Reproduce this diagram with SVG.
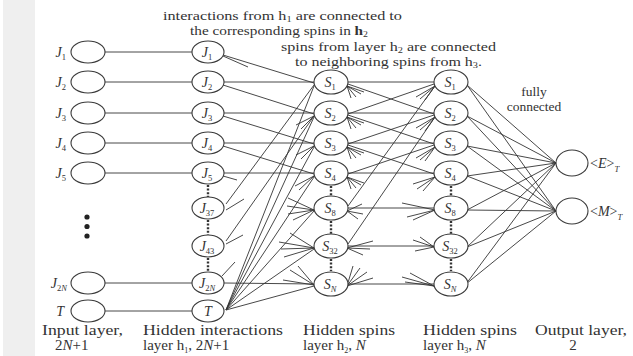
<svg xmlns="http://www.w3.org/2000/svg" width="633" height="356" viewBox="0 0 633 356">
<style>
.n{fill:#fff;stroke:#3a3a3a;stroke-width:1.1}
.c line{stroke:#333;stroke-width:0.9}
.d{stroke:#333;stroke-width:2.4;stroke-dasharray:2 1.6}
.lb{font-family:'Liberation Serif','DejaVu Serif',serif;font-style:italic;font-size:14px;fill:#333}
.sb{font-size:8.5px}
.up{font-style:normal}
.cap{font-family:'Liberation Serif','DejaVu Serif',serif;fill:#333}
.top{font-size:12.5px}
.bot{font-size:15px}
.s{font-size:8px}
</style>
<rect x="3" y="0" width="32" height="356" fill="#efefef"/>

<g class="c" id="connectors">
<!-- input to hidden interactions -->
<line x1="105" y1="52" x2="192" y2="52"/>
<line x1="105" y1="82" x2="192" y2="82"/>
<line x1="105" y1="113" x2="192" y2="113"/>
<line x1="105" y1="143" x2="192" y2="143"/>
<line x1="105" y1="173" x2="192" y2="173"/>
<line x1="105" y1="283" x2="192" y2="283"/>
<line x1="105" y1="311" x2="192" y2="311"/>
<!-- hidden interactions to spins h2 -->
<line x1="223" y1="55" x2="314" y2="83"/>
<line x1="223" y1="56" x2="248" y2="67"/>
<line x1="224" y1="82" x2="314" y2="82"/>
<line x1="223" y1="85" x2="314" y2="114"/>
<line x1="224" y1="113" x2="314" y2="113"/>
<line x1="223" y1="116" x2="314" y2="144"/>
<line x1="224" y1="143" x2="314" y2="143"/>
<line x1="223" y1="146" x2="314" y2="174"/>
<line x1="224" y1="173" x2="314" y2="173"/>
<line x1="223" y1="176" x2="237" y2="180"/>
<line x1="244" y1="199" x2="226" y2="210"/>
<line x1="226" y1="204" x2="314" y2="85"/>
<line x1="226" y1="244" x2="243" y2="235"/>
<line x1="226" y1="241" x2="314" y2="116"/>
<line x1="224" y1="283" x2="314" y2="284"/>
<line x1="222" y1="276" x2="235" y2="262"/>
<line x1="226" y1="310" x2="314" y2="86"/>
<line x1="226" y1="310" x2="314" y2="117"/>
<line x1="226" y1="310" x2="314" y2="147"/>
<line x1="226" y1="310" x2="314" y2="177"/>
<line x1="226" y1="310" x2="314" y2="211"/>
<line x1="226" y1="310" x2="314" y2="249"/>
<line x1="226" y1="310" x2="314" y2="286"/>
<!-- stubs into h2 spins -->
<line x1="296" y1="125" x2="314" y2="116"/>
<line x1="301" y1="129" x2="314" y2="116"/>
<line x1="296" y1="155" x2="314" y2="146"/>
<line x1="301" y1="159" x2="314" y2="146"/>
<line x1="295" y1="186" x2="314" y2="176"/>
<line x1="299" y1="190" x2="314" y2="176"/>
<line x1="288" y1="198" x2="314" y2="210"/>
<line x1="287" y1="206" x2="314" y2="210"/>
<line x1="288" y1="214" x2="314" y2="210"/>
<line x1="293" y1="220" x2="314" y2="210"/>
<line x1="290" y1="233" x2="314" y2="248"/>
<line x1="279" y1="242" x2="314" y2="248"/>
<line x1="281" y1="249" x2="314" y2="248"/>
<line x1="284" y1="257" x2="314" y2="248"/>
<line x1="290" y1="270" x2="314" y2="285"/>
<line x1="298" y1="266" x2="314" y2="285"/>
<line x1="283" y1="280" x2="314" y2="285"/>
<!-- stubs out of h2 spins -->
<line x1="347" y1="86" x2="351" y2="98"/>
<line x1="347" y1="86" x2="356" y2="97"/>
<line x1="347" y1="86" x2="361" y2="94"/>
<line x1="347" y1="86" x2="364" y2="92"/>
<line x1="347" y1="117" x2="351" y2="129"/>
<line x1="347" y1="117" x2="356" y2="128"/>
<line x1="347" y1="117" x2="361" y2="125"/>
<line x1="347" y1="117" x2="364" y2="123"/>
<line x1="347" y1="147" x2="351" y2="159"/>
<line x1="347" y1="147" x2="356" y2="158"/>
<line x1="347" y1="147" x2="361" y2="155"/>
<line x1="347" y1="147" x2="364" y2="153"/>
<line x1="347" y1="177" x2="351" y2="189"/>
<line x1="347" y1="177" x2="356" y2="188"/>
<line x1="347" y1="177" x2="361" y2="185"/>
<line x1="347" y1="177" x2="364" y2="183"/>
<line x1="347" y1="211" x2="363" y2="214"/>
<line x1="347" y1="211" x2="358" y2="219"/>
<line x1="347" y1="211" x2="362" y2="204"/>
<line x1="347" y1="248" x2="373" y2="241"/>
<line x1="347" y1="248" x2="370" y2="249"/>
<line x1="347" y1="248" x2="363" y2="255"/>
<line x1="347" y1="286" x2="353" y2="266"/>
<line x1="347" y1="286" x2="360" y2="268"/>
<line x1="347" y1="286" x2="367" y2="272"/>
<line x1="347" y1="286" x2="373" y2="278"/>
<!-- h2 to h3 -->
<line x1="348" y1="82" x2="434" y2="82"/>
<line x1="348" y1="84" x2="434" y2="114"/>
<line x1="348" y1="114" x2="434" y2="84"/>
<line x1="348" y1="113" x2="434" y2="113"/>
<line x1="348" y1="115" x2="434" y2="144"/>
<line x1="348" y1="144" x2="434" y2="115"/>
<line x1="348" y1="143" x2="434" y2="143"/>
<line x1="348" y1="145" x2="434" y2="174"/>
<line x1="348" y1="174" x2="434" y2="145"/>
<line x1="348" y1="173" x2="434" y2="173"/>
<line x1="348" y1="208" x2="434" y2="208"/>
<line x1="348" y1="246" x2="434" y2="246"/>
<line x1="348" y1="284" x2="434" y2="284"/>
<line x1="348" y1="206" x2="435" y2="86"/>
<line x1="348" y1="244" x2="435" y2="117"/>
<!-- stubs into h3 spins -->
<line x1="416" y1="97" x2="435" y2="86"/>
<line x1="420" y1="99" x2="435" y2="86"/>
<line x1="425" y1="100" x2="435" y2="86"/>
<line x1="416" y1="128" x2="435" y2="117"/>
<line x1="420" y1="130" x2="435" y2="117"/>
<line x1="425" y1="131" x2="435" y2="117"/>
<line x1="416" y1="158" x2="435" y2="147"/>
<line x1="420" y1="160" x2="435" y2="147"/>
<line x1="425" y1="161" x2="435" y2="147"/>
<line x1="413" y1="184" x2="435" y2="177"/>
<line x1="417" y1="189" x2="435" y2="177"/>
<line x1="423" y1="191" x2="435" y2="177"/>
<line x1="402" y1="203" x2="435" y2="210"/>
<line x1="407" y1="217" x2="435" y2="210"/>
<line x1="413" y1="220" x2="435" y2="210"/>
<line x1="413" y1="240" x2="434" y2="247"/>
<line x1="415" y1="251" x2="434" y2="247"/>
<line x1="420" y1="237" x2="434" y2="247"/>
<line x1="402" y1="277" x2="434" y2="286"/>
<line x1="405" y1="282" x2="434" y2="286"/>
<line x1="410" y1="273" x2="434" y2="286"/>
<!-- h3 to output, fully connected -->
<line x1="467" y1="85" x2="556" y2="163"/>
<line x1="467" y1="85" x2="556" y2="211"/>
<line x1="467" y1="116" x2="556" y2="163"/>
<line x1="467" y1="116" x2="556" y2="211"/>
<line x1="467" y1="146" x2="556" y2="163"/>
<line x1="467" y1="146" x2="556" y2="211"/>
<line x1="467" y1="176" x2="556" y2="163"/>
<line x1="467" y1="176" x2="556" y2="211"/>
<line x1="467" y1="210" x2="556" y2="163"/>
<line x1="467" y1="210" x2="556" y2="211"/>
<line x1="467" y1="247" x2="556" y2="163"/>
<line x1="467" y1="247" x2="556" y2="211"/>
<line x1="466" y1="284" x2="556" y2="163"/>
<line x1="466" y1="284" x2="556" y2="211"/>
</g>

<g id="dots">
<line class="d" x1="208" y1="185" x2="208" y2="197"/>
<line class="d" x1="208" y1="220" x2="208" y2="235"/>
<line class="d" x1="208" y1="258" x2="208" y2="272"/>
<line class="d" x1="331" y1="186" x2="331" y2="196"/>
<line class="d" x1="331" y1="221" x2="331" y2="234"/>
<line class="d" x1="331" y1="259" x2="331" y2="271"/>
<line class="d" x1="451" y1="186" x2="451" y2="196"/>
<line class="d" x1="451" y1="221" x2="451" y2="234"/>
<line class="d" x1="451" y1="259" x2="451" y2="271"/>
<circle cx="87" cy="217" r="2.6" fill="#222"/>
<circle cx="87" cy="226.5" r="2.6" fill="#222"/>
<circle cx="87" cy="236" r="2.6" fill="#222"/>
</g>

<!-- input layer -->
<g id="in1"><ellipse class="n" cx="88" cy="52" rx="17" ry="11"/><text class="lb" x="66" y="57" text-anchor="end">J<tspan class="sb up" dy="3">1</tspan></text></g>
<g id="in2"><ellipse class="n" cx="88" cy="82" rx="17" ry="11"/><text class="lb" x="66" y="87" text-anchor="end">J<tspan class="sb up" dy="3">2</tspan></text></g>
<g id="in3"><ellipse class="n" cx="88" cy="113" rx="17" ry="11"/><text class="lb" x="66" y="118" text-anchor="end">J<tspan class="sb up" dy="3">3</tspan></text></g>
<g id="in4"><ellipse class="n" cx="88" cy="143" rx="17" ry="11"/><text class="lb" x="66" y="148" text-anchor="end">J<tspan class="sb up" dy="3">4</tspan></text></g>
<g id="in5"><ellipse class="n" cx="88" cy="173" rx="17" ry="11"/><text class="lb" x="66" y="178" text-anchor="end">J<tspan class="sb up" dy="3">5</tspan></text></g>
<g id="in2N"><ellipse class="n" cx="88" cy="283" rx="17" ry="11"/><text class="lb" x="67" y="288" text-anchor="end">J<tspan class="sb" dy="3"><tspan class="up">2</tspan>N</tspan></text></g>
<g id="inT"><ellipse class="n" cx="88" cy="311" rx="17" ry="11"/><text class="lb" x="64" y="316" text-anchor="end">T</text></g>

<!-- hidden interactions layer -->
<g id="h1_1"><ellipse class="n" cx="208" cy="52" rx="16" ry="11"/><text class="lb" x="207" y="57" text-anchor="middle">J<tspan class="sb up" dy="3">1</tspan></text></g>
<g id="h1_2"><ellipse class="n" cx="208" cy="82" rx="16" ry="11"/><text class="lb" x="207" y="87" text-anchor="middle">J<tspan class="sb up" dy="3">2</tspan></text></g>
<g id="h1_3"><ellipse class="n" cx="208" cy="113" rx="16" ry="11"/><text class="lb" x="207" y="118" text-anchor="middle">J<tspan class="sb up" dy="3">3</tspan></text></g>
<g id="h1_4"><ellipse class="n" cx="208" cy="143" rx="16" ry="11"/><text class="lb" x="207" y="148" text-anchor="middle">J<tspan class="sb up" dy="3">4</tspan></text></g>
<g id="h1_5"><ellipse class="n" cx="208" cy="173" rx="16" ry="11"/><text class="lb" x="207" y="178" text-anchor="middle">J<tspan class="sb up" dy="3">5</tspan></text></g>
<g id="h1_37"><ellipse class="n" cx="208" cy="208" rx="16" ry="11"/><text class="lb" x="207" y="213" text-anchor="middle">J<tspan class="sb up" dy="3">37</tspan></text></g>
<g id="h1_43"><ellipse class="n" cx="208" cy="246" rx="16" ry="11"/><text class="lb" x="207" y="251" text-anchor="middle">J<tspan class="sb up" dy="3">43</tspan></text></g>
<g id="h1_2N"><ellipse class="n" cx="208" cy="283" rx="16" ry="11"/><text class="lb" x="207" y="288" text-anchor="middle">J<tspan class="sb" dy="3"><tspan class="up">2</tspan>N</tspan></text></g>
<g id="h1_T"><ellipse class="n" cx="208" cy="311" rx="16" ry="11"/><text class="lb" x="208" y="316" text-anchor="middle">T</text></g>

<!-- hidden spins layer h2 -->
<g id="h2_1"><ellipse class="n" cx="331" cy="82" rx="17" ry="12"/><text class="lb" x="330" y="87" text-anchor="middle">S<tspan class="sb up" dy="3">1</tspan></text></g>
<g id="h2_2"><ellipse class="n" cx="331" cy="113" rx="17" ry="12"/><text class="lb" x="330" y="118" text-anchor="middle">S<tspan class="sb up" dy="3">2</tspan></text></g>
<g id="h2_3"><ellipse class="n" cx="331" cy="143" rx="17" ry="12"/><text class="lb" x="330" y="148" text-anchor="middle">S<tspan class="sb up" dy="3">3</tspan></text></g>
<g id="h2_4"><ellipse class="n" cx="331" cy="173" rx="17" ry="12"/><text class="lb" x="330" y="178" text-anchor="middle">S<tspan class="sb up" dy="3">4</tspan></text></g>
<g id="h2_8"><ellipse class="n" cx="331" cy="208" rx="17" ry="12"/><text class="lb" x="330" y="213" text-anchor="middle">S<tspan class="sb up" dy="3">8</tspan></text></g>
<g id="h2_32"><ellipse class="n" cx="331" cy="246" rx="17" ry="12"/><text class="lb" x="330" y="251" text-anchor="middle">S<tspan class="sb up" dy="3">32</tspan></text></g>
<g id="h2_N"><ellipse class="n" cx="331" cy="284" rx="17" ry="12"/><text class="lb" x="330" y="289" text-anchor="middle">S<tspan class="sb" dy="3">N</tspan></text></g>

<!-- hidden spins layer h3 -->
<g id="h3_1"><ellipse class="n" cx="451" cy="82" rx="17" ry="12"/><text class="lb" x="450" y="87" text-anchor="middle">S<tspan class="sb up" dy="3">1</tspan></text></g>
<g id="h3_2"><ellipse class="n" cx="451" cy="113" rx="17" ry="12"/><text class="lb" x="450" y="118" text-anchor="middle">S<tspan class="sb up" dy="3">2</tspan></text></g>
<g id="h3_3"><ellipse class="n" cx="451" cy="143" rx="17" ry="12"/><text class="lb" x="450" y="148" text-anchor="middle">S<tspan class="sb up" dy="3">3</tspan></text></g>
<g id="h3_4"><ellipse class="n" cx="451" cy="173" rx="17" ry="12"/><text class="lb" x="450" y="178" text-anchor="middle">S<tspan class="sb up" dy="3">4</tspan></text></g>
<g id="h3_8"><ellipse class="n" cx="451" cy="208" rx="17" ry="12"/><text class="lb" x="450" y="213" text-anchor="middle">S<tspan class="sb up" dy="3">8</tspan></text></g>
<g id="h3_32"><ellipse class="n" cx="451" cy="246" rx="17" ry="12"/><text class="lb" x="450" y="251" text-anchor="middle">S<tspan class="sb up" dy="3">32</tspan></text></g>
<g id="h3_N"><ellipse class="n" cx="451" cy="284" rx="17" ry="12"/><text class="lb" x="450" y="289" text-anchor="middle">S<tspan class="sb" dy="3">N</tspan></text></g>

<!-- output layer -->
<g id="outE"><ellipse class="n" cx="572" cy="163" rx="16" ry="13"/><text class="lb" x="590" y="168"><tspan class="up">&lt;</tspan>E<tspan class="up">&gt;</tspan><tspan class="sb" dy="4">T</tspan></text></g>
<g id="outM"><ellipse class="n" cx="572" cy="211" rx="16" ry="13"/><text class="lb" x="590" y="216"><tspan class="up">&lt;</tspan>M<tspan class="up">&gt;</tspan><tspan class="sb" dy="4">T</tspan></text></g>

<!-- annotations -->
<g id="notes" class="cap top">
<text x="163" y="20" textLength="239" lengthAdjust="spacingAndGlyphs">interactions from h<tspan class="s" dy="2">1</tspan><tspan dy="-2"> are connected to</tspan></text>
<text x="190" y="35" textLength="178" lengthAdjust="spacingAndGlyphs">the corresponding spins in <tspan font-weight="bold">h</tspan><tspan class="s" dy="2">2</tspan></text>
<text x="281" y="51" textLength="215" lengthAdjust="spacingAndGlyphs">spins from layer h<tspan class="s" dy="2">2</tspan><tspan dy="-2"> are connected</tspan></text>
<text x="295" y="66" textLength="187" lengthAdjust="spacingAndGlyphs">to neighboring spins from h<tspan class="s" dy="2">3</tspan><tspan dy="-2">.</tspan></text>
<text x="534" y="96" text-anchor="middle" font-size="13.5">fully</text>
<text x="534" y="111" text-anchor="middle" font-size="13.5">connected</text>
</g>
<g id="layer-labels" class="cap bot">
<text x="42" y="335" textLength="81" lengthAdjust="spacingAndGlyphs">Input layer,</text>
<text x="55" y="350">2<tspan font-style="italic">N</tspan>+1</text>
<text x="143" y="335" textLength="140" lengthAdjust="spacingAndGlyphs">Hidden interactions</text>
<text x="143" y="350">layer h<tspan class="s" dy="3">1</tspan><tspan dy="-3">, 2</tspan><tspan font-style="italic">N</tspan>+1</text>
<text x="303" y="335" textLength="92" lengthAdjust="spacingAndGlyphs">Hidden spins</text>
<text x="303" y="350">layer h<tspan class="s" dy="3">2</tspan><tspan dy="-3">, </tspan><tspan font-style="italic">N</tspan></text>
<text x="423" y="335" textLength="94" lengthAdjust="spacingAndGlyphs">Hidden spins</text>
<text x="423" y="350">layer h<tspan class="s" dy="3">3</tspan><tspan dy="-3">, </tspan><tspan font-style="italic">N</tspan></text>
<text x="535" y="335" textLength="92" lengthAdjust="spacingAndGlyphs">Output layer,</text>
<text x="573" y="350" text-anchor="middle">2</text>
</g>
</svg>
